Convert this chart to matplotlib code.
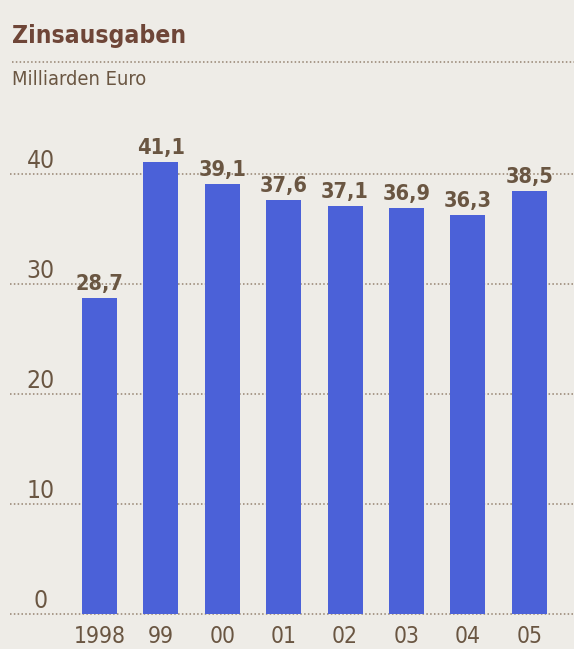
import matplotlib
matplotlib.use("Agg")
import matplotlib.pyplot as plt
from matplotlib.lines import Line2D
from matplotlib import font_manager as fm

years = ["1998", "99", "00", "01", "02", "03", "04", "05"]
values = [28.7, 41.1, 39.1, 37.6, 37.1, 36.9, 36.3, 38.5]
value_labels = ["28,7", "41,1", "39,1", "37,6", "37,1", "36,9", "36,3", "38,5"]
yticks = [0, 10, 20, 30, 40]

BG = "#eeece7"
BAR = "#4b61d8"
TXT = "#6a5642"
TITLE = "#6f4638"
GRID = "#94826f"


def pick_font(bold):
    prefs = ["liberation", "dejavu", "noto", "roboto", "open", "lato", "inter"]
    cands = []
    for f in fm.fontManager.ttflist:
        key = (f.name + " " + f.fname).lower()
        narrow = ("narrow" in key or "condensed" in key or
                  str(f.stretch) in ("condensed", "semi-condensed", "extra-condensed", "ultra-condensed"))
        if not narrow or f.style != "normal":
            continue
        if "semi" in key or "extra" in key or "light" in key or "black" in key or "medium" in key or "thin" in key:
            continue
        w = f.weight if isinstance(f.weight, int) else (700 if "bold" in str(f.weight) else 400)
        if bold and w < 600:
            continue
        if not bold and w >= 600:
            continue
        rank = next((i for i, p in enumerate(prefs) if p in key), len(prefs))
        cands.append((rank, f.fname))
    if cands:
        cands.sort()
        return fm.FontProperties(fname=cands[0][1])
    return fm.FontProperties(family=["Liberation Sans", "DejaVu Sans"],
                             weight="bold" if bold else "normal")


FP_REG = pick_font(False)
FP_BOLD = pick_font(True)

W, H = 574, 649
fig = plt.figure(figsize=(W / 100, H / 100), dpi=100, facecolor=BG)
renderer = fig.canvas.get_renderer()


def fit_size(sample, fp, target_w, target_cap):
    t = fig.text(0, 0, sample, fontproperties=fp, fontsize=20)
    w = t.get_window_extent(renderer).width
    t.remove()
    s_w = 20 * target_w / w
    s_h = target_cap  # cap height ~0.72 em; px -> pt factor 0.72 cancels
    return min(s_w, s_h)


SZ_X = fit_size("1998", FP_REG, 52, 20)
SZ_Y = fit_size("10", FP_REG, 28, 20)
SZ_V = fit_size("36,9", FP_BOLD, 48, 20)
SZ_T = fit_size("Zinsausgaben", FP_BOLD, 174, 19)
SZ_S = fit_size("Milliarden Euro", FP_REG, 134, 16)

PX = 0.72  # points per pixel

left_px, right_px = 10, 574
bottom_px, top_px = 35, 549
ax = fig.add_axes([left_px / W, bottom_px / H, (right_px - left_px) / W, (top_px - bottom_px) / H])
ax.set_facecolor(BG)

c0, step = 99.5, 61.4
ax.set_xlim((left_px - c0) / step, (right_px - c0) / step)
ax.set_ylim(0, (top_px - bottom_px) / 11.0)

for s in ax.spines.values():
    s.set_visible(False)
ax.set_xticks([])
ax.set_yticks([])

for t in yticks:
    ax.axhline(t, color=GRID, lw=1.1, ls=(0, (1, 1.5)), zorder=1, clip_on=False)

xs = list(range(len(values)))
ax.bar(xs, values, width=0.57, color=BAR, zorder=2)

for x, v, lab in zip(xs, values, value_labels):
    ax.annotate(lab, (x, v), xytext=(0, 8 * PX), textcoords="offset points",
                ha="center", va="baseline", fontproperties=FP_BOLD, fontsize=SZ_V,
                color=TXT, zorder=3)

for x, lab in zip(xs, years):
    ax.annotate(lab, (x, 0), xytext=(0, -29 * PX), textcoords="offset points",
                ha="center", va="baseline", fontproperties=FP_REG, fontsize=SZ_X,
                color=TXT, annotation_clip=False)

ylab_x = (40.5 - c0) / step
for t in yticks:
    ax.annotate(str(t), (ylab_x, t), xytext=(0, 6 * PX), textcoords="offset points",
                ha="center", va="baseline", fontproperties=FP_REG, fontsize=SZ_Y,
                color=TXT)

fig.text(12 / W, 1 - 43 / H, "Zinsausgaben", ha="left", va="baseline",
         fontproperties=FP_BOLD, fontsize=SZ_T, color=TITLE)
fig.add_artist(Line2D([12 / W, 1.0], [1 - 62 / H, 1 - 62 / H], transform=fig.transFigure,
                      color=GRID, lw=1.1, ls=(0, (1, 1.5))))
fig.text(12 / W, 1 - 85 / H, "Milliarden Euro", ha="left", va="baseline",
         fontproperties=FP_REG, fontsize=SZ_S, color=TXT)

fig.savefig("out.png", dpi=100, facecolor=BG)
